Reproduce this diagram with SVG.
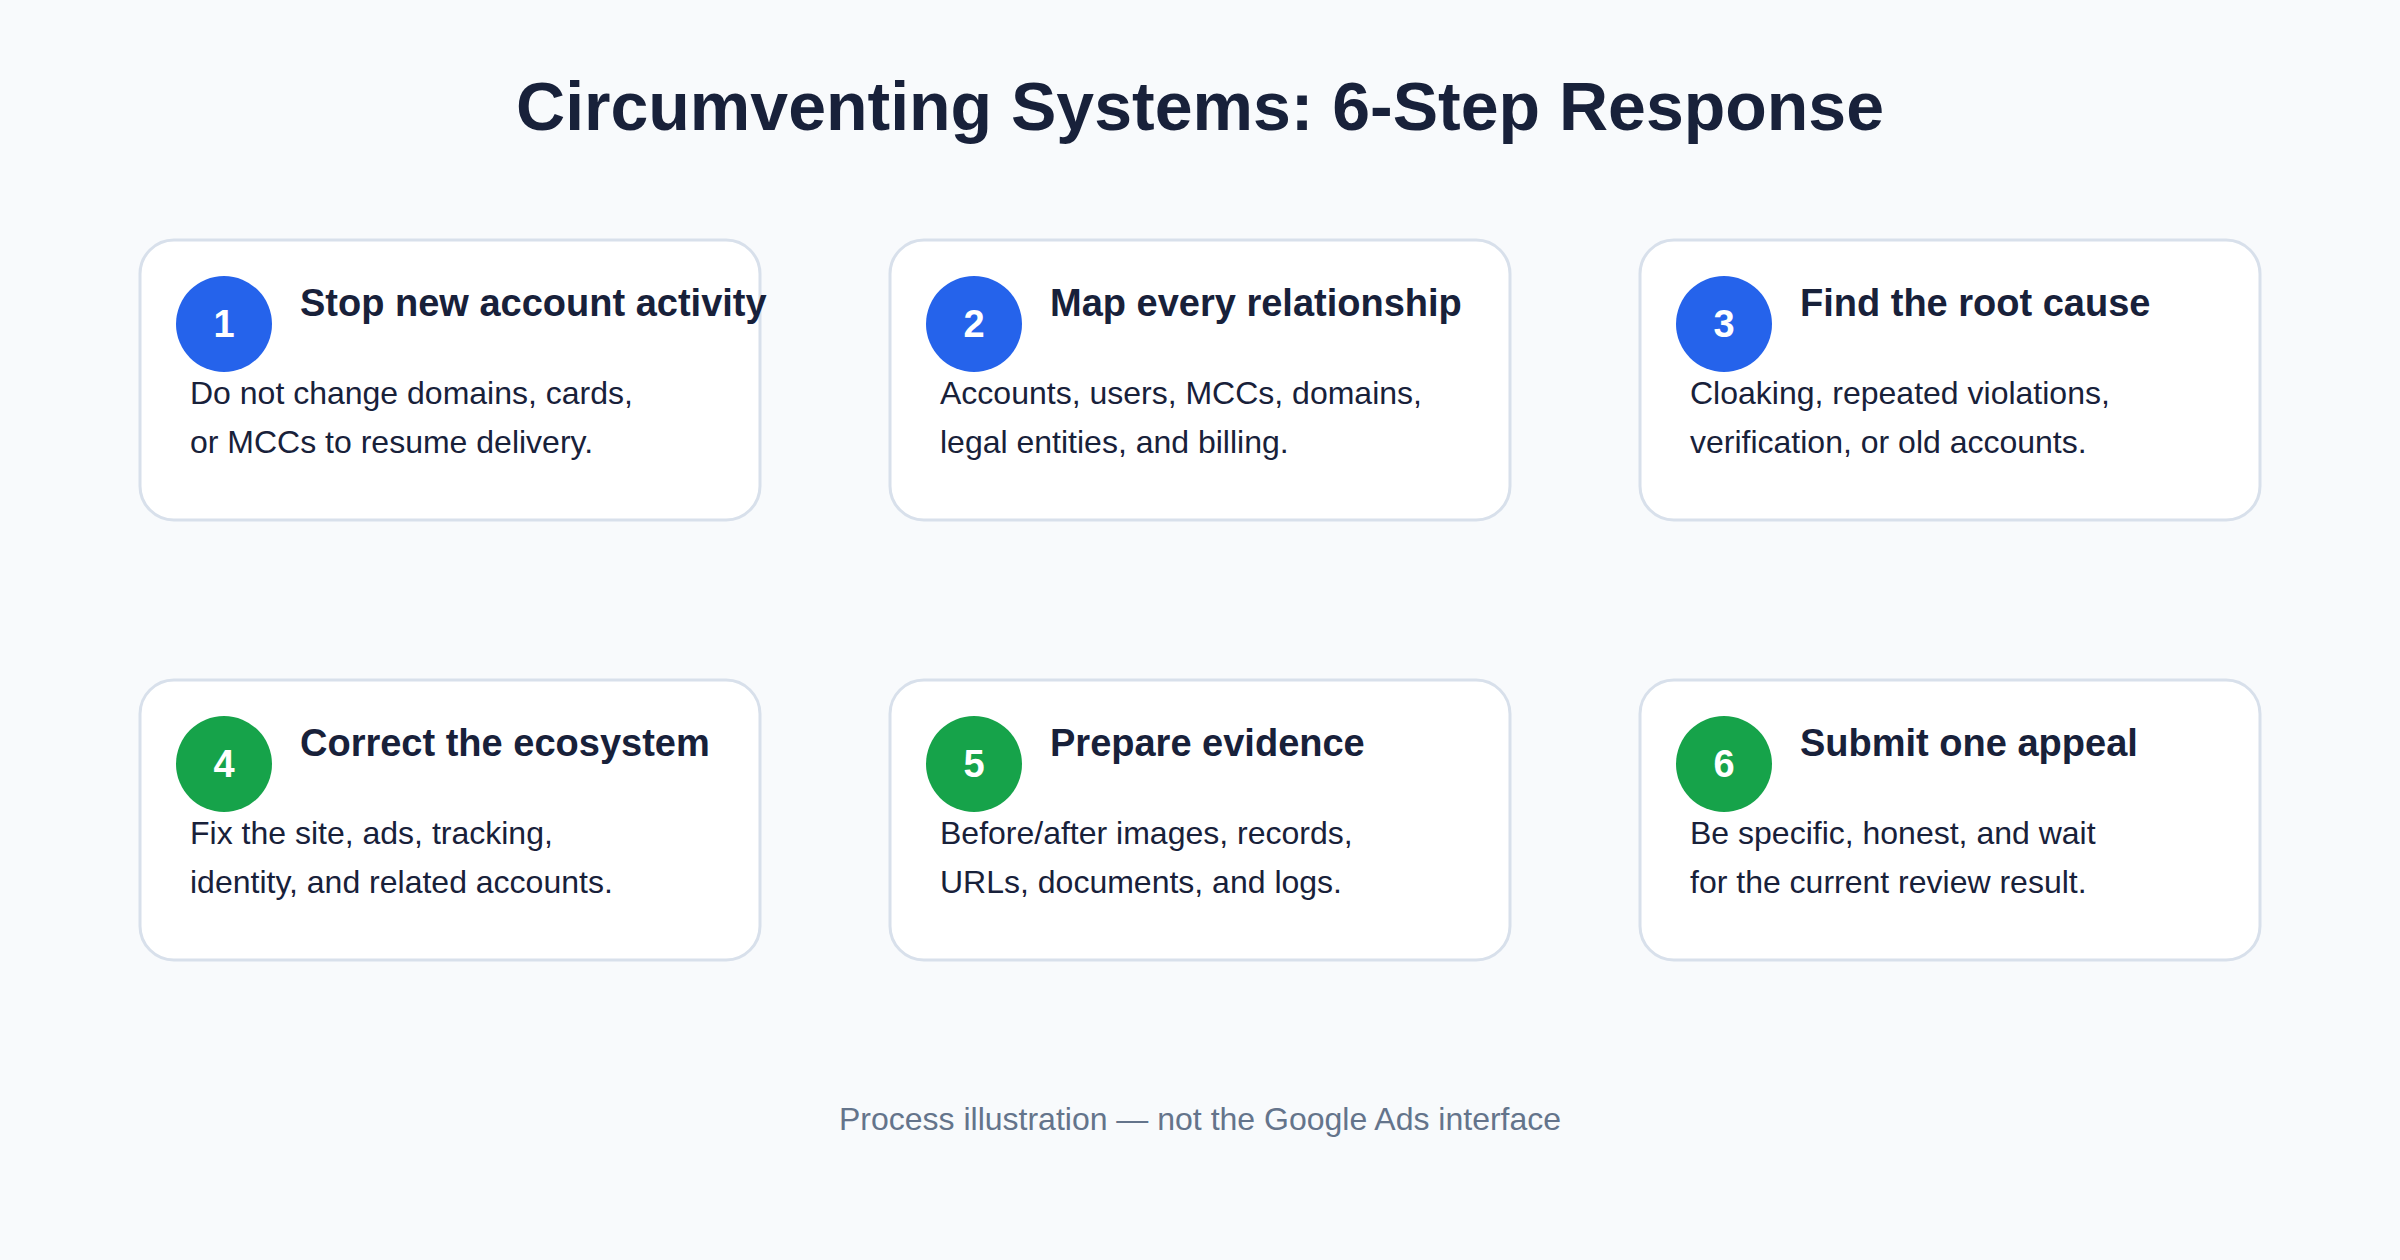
<svg xmlns="http://www.w3.org/2000/svg" width="2400" height="1260" viewBox="0 0 2400 1260">
<style>
.bg{fill:#f8fafc}
.card{fill:#ffffff;stroke:#d8e0eb;stroke-width:3}
.blue{fill:#2563eb}
.green{fill:#16a34a}
.num{font-family:"Liberation Sans",Arial,sans-serif;font-size:38px;font-weight:bold;fill:#ffffff;text-anchor:middle}
.ttl{font-family:"Liberation Sans",Arial,sans-serif;font-size:38px;font-weight:bold;fill:#18213a}
.body{font-family:"Liberation Sans",Arial,sans-serif;font-size:32px;fill:#18213a}
.head{font-family:"Liberation Sans",Arial,sans-serif;font-size:68px;font-weight:bold;fill:#18213a;text-anchor:middle}
.foot{font-family:"Liberation Sans",Arial,sans-serif;font-size:32px;fill:#64748b;text-anchor:middle}
</style>
<rect class="bg" x="0" y="0" width="2400" height="1260"/>
<text class="head" x="1200" y="130">Circumventing Systems: 6-Step Response</text>
<g id="connectors"></g>
<g id="step1" transform="translate(140,240)">
<rect class="card" x="0" y="0" width="620" height="280" rx="34"/>
<circle class="blue" cx="84" cy="84" r="48"/>
<text class="num" x="84" y="97">1</text>
<text class="ttl" x="160" y="76">Stop new account activity</text>
<text class="body" x="50" y="164">Do not change domains, cards,</text>
<text class="body" x="50" y="213">or MCCs to resume delivery.</text>
</g>
<g id="step2" transform="translate(890,240)">
<rect class="card" x="0" y="0" width="620" height="280" rx="34"/>
<circle class="blue" cx="84" cy="84" r="48"/>
<text class="num" x="84" y="97">2</text>
<text class="ttl" x="160" y="76">Map every relationship</text>
<text class="body" x="50" y="164">Accounts, users, MCCs, domains,</text>
<text class="body" x="50" y="213">legal entities, and billing.</text>
</g>
<g id="step3" transform="translate(1640,240)">
<rect class="card" x="0" y="0" width="620" height="280" rx="34"/>
<circle class="blue" cx="84" cy="84" r="48"/>
<text class="num" x="84" y="97">3</text>
<text class="ttl" x="160" y="76">Find the root cause</text>
<text class="body" x="50" y="164">Cloaking, repeated violations,</text>
<text class="body" x="50" y="213">verification, or old accounts.</text>
</g>
<g id="step4" transform="translate(140,680)">
<rect class="card" x="0" y="0" width="620" height="280" rx="34"/>
<circle class="green" cx="84" cy="84" r="48"/>
<text class="num" x="84" y="97">4</text>
<text class="ttl" x="160" y="76">Correct the ecosystem</text>
<text class="body" x="50" y="164">Fix the site, ads, tracking,</text>
<text class="body" x="50" y="213">identity, and related accounts.</text>
</g>
<g id="step5" transform="translate(890,680)">
<rect class="card" x="0" y="0" width="620" height="280" rx="34"/>
<circle class="green" cx="84" cy="84" r="48"/>
<text class="num" x="84" y="97">5</text>
<text class="ttl" x="160" y="76">Prepare evidence</text>
<text class="body" x="50" y="164">Before/after images, records,</text>
<text class="body" x="50" y="213">URLs, documents, and logs.</text>
</g>
<g id="step6" transform="translate(1640,680)">
<rect class="card" x="0" y="0" width="620" height="280" rx="34"/>
<circle class="green" cx="84" cy="84" r="48"/>
<text class="num" x="84" y="97">6</text>
<text class="ttl" x="160" y="76">Submit one appeal</text>
<text class="body" x="50" y="164">Be specific, honest, and wait</text>
<text class="body" x="50" y="213">for the current review result.</text>
</g>
<text class="foot" x="1200" y="1130">Process illustration — not the Google Ads interface</text>
</svg>
